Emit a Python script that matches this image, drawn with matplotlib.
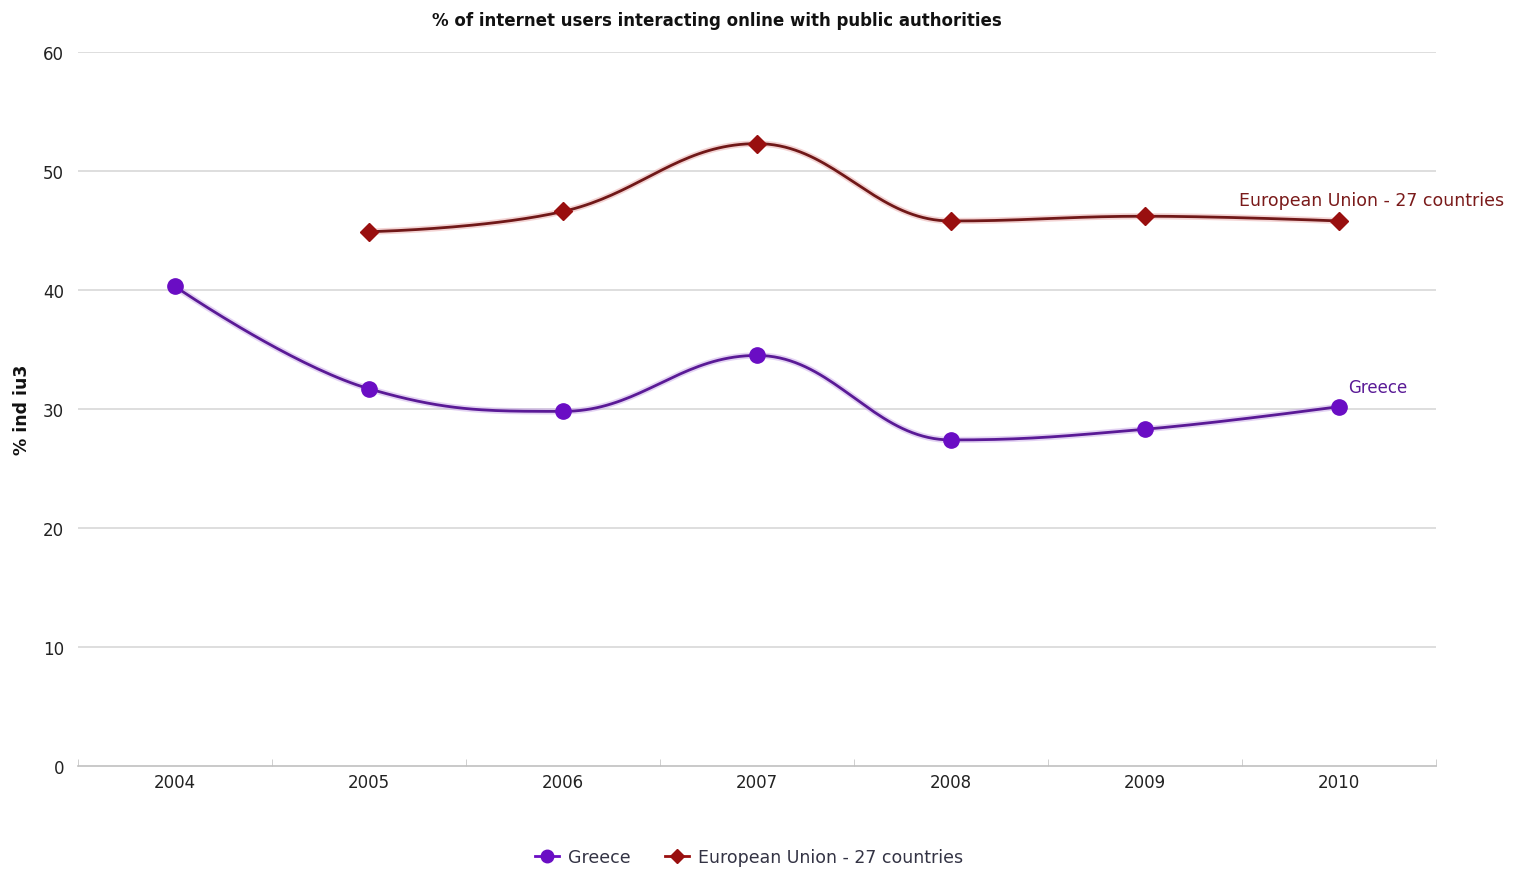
import numpy as np
import matplotlib
matplotlib.use("Agg")
import matplotlib.pyplot as plt

years = ["2004", "2005", "2006", "2007", "2008", "2009", "2010"]
greece = [40.3, 31.7, 29.8, 34.5, 27.4, 28.3, 30.2]
eu27 = [None, 44.9, 46.6, 52.3, 45.8, 46.2, 45.8]

title = "% of internet users interacting online with public authorities"
ylabel = "% ind iu3"
yticks = [0, 10, 20, 30, 40, 50, 60]

GR_MARK = "#6A0DC4"
GR_LINE = "#5A1A96"
EU_MARK = "#990F0F"
EU_LINE = "#701818"

W, H = 1517, 870
fig = plt.figure(figsize=(W / 100, H / 100), dpi=100)
ax = fig.add_axes([78 / W, (870 - 767) / H, (1436 - 78) / W, (767 - 53) / H])


def spline_path(xs, ys, n=40):
    """Highcharts-style spline rendering through the given points."""
    xs = list(xs); ys = list(ys)
    m = len(xs)
    sm = 1.5
    den = sm + 1
    left = [None] * m
    right = [None] * m
    for i in range(1, m - 1):
        px, py = xs[i], ys[i]
        lx, ly = xs[i - 1], ys[i - 1]
        nx, ny = xs[i + 1], ys[i + 1]
        lcx = (sm * px + lx) / den
        lcy = (sm * py + ly) / den
        rcx = (sm * px + nx) / den
        rcy = (sm * py + ny) / den
        corr = ((rcy - lcy) * (rcx - px)) / (rcx - lcx) + py - rcy
        lcy += corr
        rcy += corr
        if lcy > ly and lcy > py:
            lcy = max(ly, py); rcy = 2 * py - lcy
        elif lcy < ly and lcy < py:
            lcy = min(ly, py); rcy = 2 * py - lcy
        if rcy > ny and rcy > py:
            rcy = max(ny, py); lcy = 2 * py - rcy
        elif rcy < ny and rcy < py:
            rcy = min(ny, py); lcy = 2 * py - rcy
        left[i] = (lcx, lcy)
        right[i] = (rcx, rcy)
    outx, outy = [], []
    t = np.linspace(0, 1, n)
    for i in range(1, m):
        p0 = (xs[i - 1], ys[i - 1])
        p3 = (xs[i], ys[i])
        p1 = right[i - 1] if right[i - 1] is not None else p0
        p2 = left[i] if left[i] is not None else p3
        bx = (1 - t) ** 3 * p0[0] + 3 * (1 - t) ** 2 * t * p1[0] + 3 * (1 - t) * t ** 2 * p2[0] + t ** 3 * p3[0]
        by = (1 - t) ** 3 * p0[1] + 3 * (1 - t) ** 2 * t * p1[1] + 3 * (1 - t) * t ** 2 * p2[1] + t ** 3 * p3[1]
        outx.extend(bx); outy.extend(by)
    return outx, outy


ax.set_xlim(-0.5, len(years) - 0.5)
ax.set_ylim(0, 60)

for y in yticks[1:]:
    ax.axhline(y, color="#D8D8D8", lw=1.2, zorder=0)

gx = [i for i, v in enumerate(greece) if v is not None]
gy = [v for v in greece if v is not None]
ex = [i for i, v in enumerate(eu27) if v is not None]
ey = [v for v in eu27 if v is not None]

sx, sy = spline_path(gx, gy)
ax.plot(sx, sy, color="#C9A8E8", lw=4.5, alpha=0.5, zorder=2, solid_capstyle="round")
ax.plot(sx, sy, color=GR_LINE, lw=2, zorder=3)
ax.plot(gx, gy, 'o', color=GR_MARK, ms=11, zorder=4)

sx, sy = spline_path(ex, ey)
ax.plot(sx, sy, color="#E8A8A8", lw=4.5, alpha=0.5, zorder=2, solid_capstyle="round")
ax.plot(sx, sy, color=EU_LINE, lw=2, zorder=3)
ax.plot(ex, ey, 'D', color=EU_MARK, ms=9, zorder=4)

# end labels
ax.annotate("European Union - 27 countries", (ex[-1], ey[-1]), xytext=(-100, 12),
            textcoords="offset pixels", color="#7A1A1A", fontsize=12.5,
            annotation_clip=False, ha="left", va="bottom")
ax.annotate("Greece", (gx[-1], gy[-1]), xytext=(9, 11), textcoords="offset pixels",
            color="#5A1A96", fontsize=12, annotation_clip=False, ha="left", va="bottom")

ax.set_xticks(range(len(years)))
ax.set_xticklabels(years, fontsize=12, color="#222222")
ax.set_xticks(np.arange(-0.5, len(years), 1.0), minor=True)
ax.tick_params(axis="x", which="major", length=0, pad=5)
ax.tick_params(axis="x", which="minor", length=5, color="#C8C8C8", direction="in")
ax.set_yticks(yticks)
ax.set_yticklabels([str(v) for v in yticks], fontsize=12, color="#222222")
ax.tick_params(axis="y", length=0, pad=10)

for s in ["top", "right", "left"]:
    ax.spines[s].set_visible(False)
ax.spines["bottom"].set_color("#C0C0C0")
ax.spines["bottom"].set_linewidth(1.2)

fig.text(717 / W, 1 - 21 / H, title, ha="center", va="center", fontsize=12,
         fontweight="bold", color="#111111")
fig.text(22 / W, 1 - 410 / H, ylabel, ha="center", va="center", rotation=90,
         fontsize=12.5, fontweight="bold", color="#111111")

h1, = ax.plot([], [], 'o-', color=GR_MARK, ms=9, lw=2)
h2, = ax.plot([], [], 'D-', color=EU_MARK, ms=7, lw=2)
fig.legend([h1, h2], ["Greece", "European Union - 27 countries"], loc="center",
           bbox_to_anchor=(749 / W, 1 - 858 / H), ncol=2, frameon=False,
           fontsize=12.5, handlelength=1.4, columnspacing=2.0, handletextpad=0.5,
           labelcolor="#333344")

fig.savefig("out.png", dpi=100)
